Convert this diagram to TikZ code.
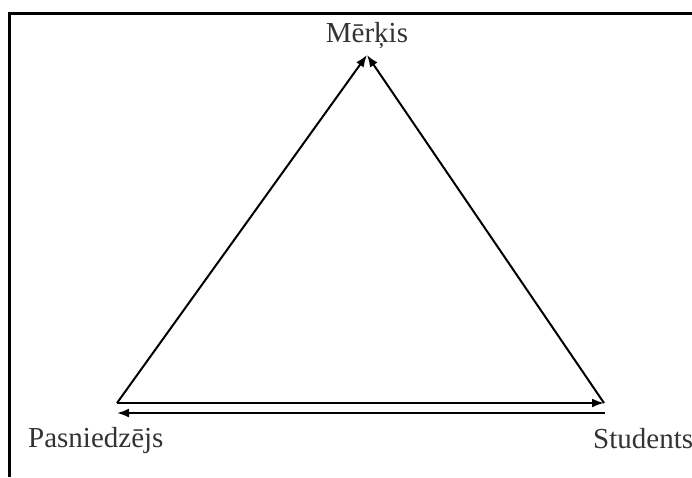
\documentclass[tikz,border=0pt]{standalone}
\usepackage{fontspec}
\setmainfont{Liberation Serif}
\usetikzlibrary{arrows.meta}
\tikzset{
  lbl/.style={font=\fontsize{29}{32}\selectfont, inner sep=0pt, text=black!80},
  edge/.style={line width=2pt, ->, >={Latex[length=12pt,width=9pt]}}
}
\begin{document}
\begin{tikzpicture}[x=1pt,y=-1pt]
\useasboundingbox (0,0) rectangle (692,477);
\draw[line width=3pt] (9,477) -- (9,13) -- (692,13);
\node[lbl, anchor=base] (merkis) at (367,42) {Mērķis};
\node[lbl, anchor=base west] (pasn) at (28,447) {Pasniedzējs};
\node[lbl, anchor=base west] (stud) at (593,448) {Students};
\coordinate (top) at (367,55);
\coordinate (left) at (117,403);
\coordinate (right) at (604,403);
\coordinate (lowleft) at (117,413);
\coordinate (lowright) at (605,413);
\draw[edge] (left) -- (top);
\draw[edge] (right) -- (top);
\draw[edge] (left) -- (right);
\draw[edge] (lowright) -- (lowleft);
\end{tikzpicture}
\end{document}
